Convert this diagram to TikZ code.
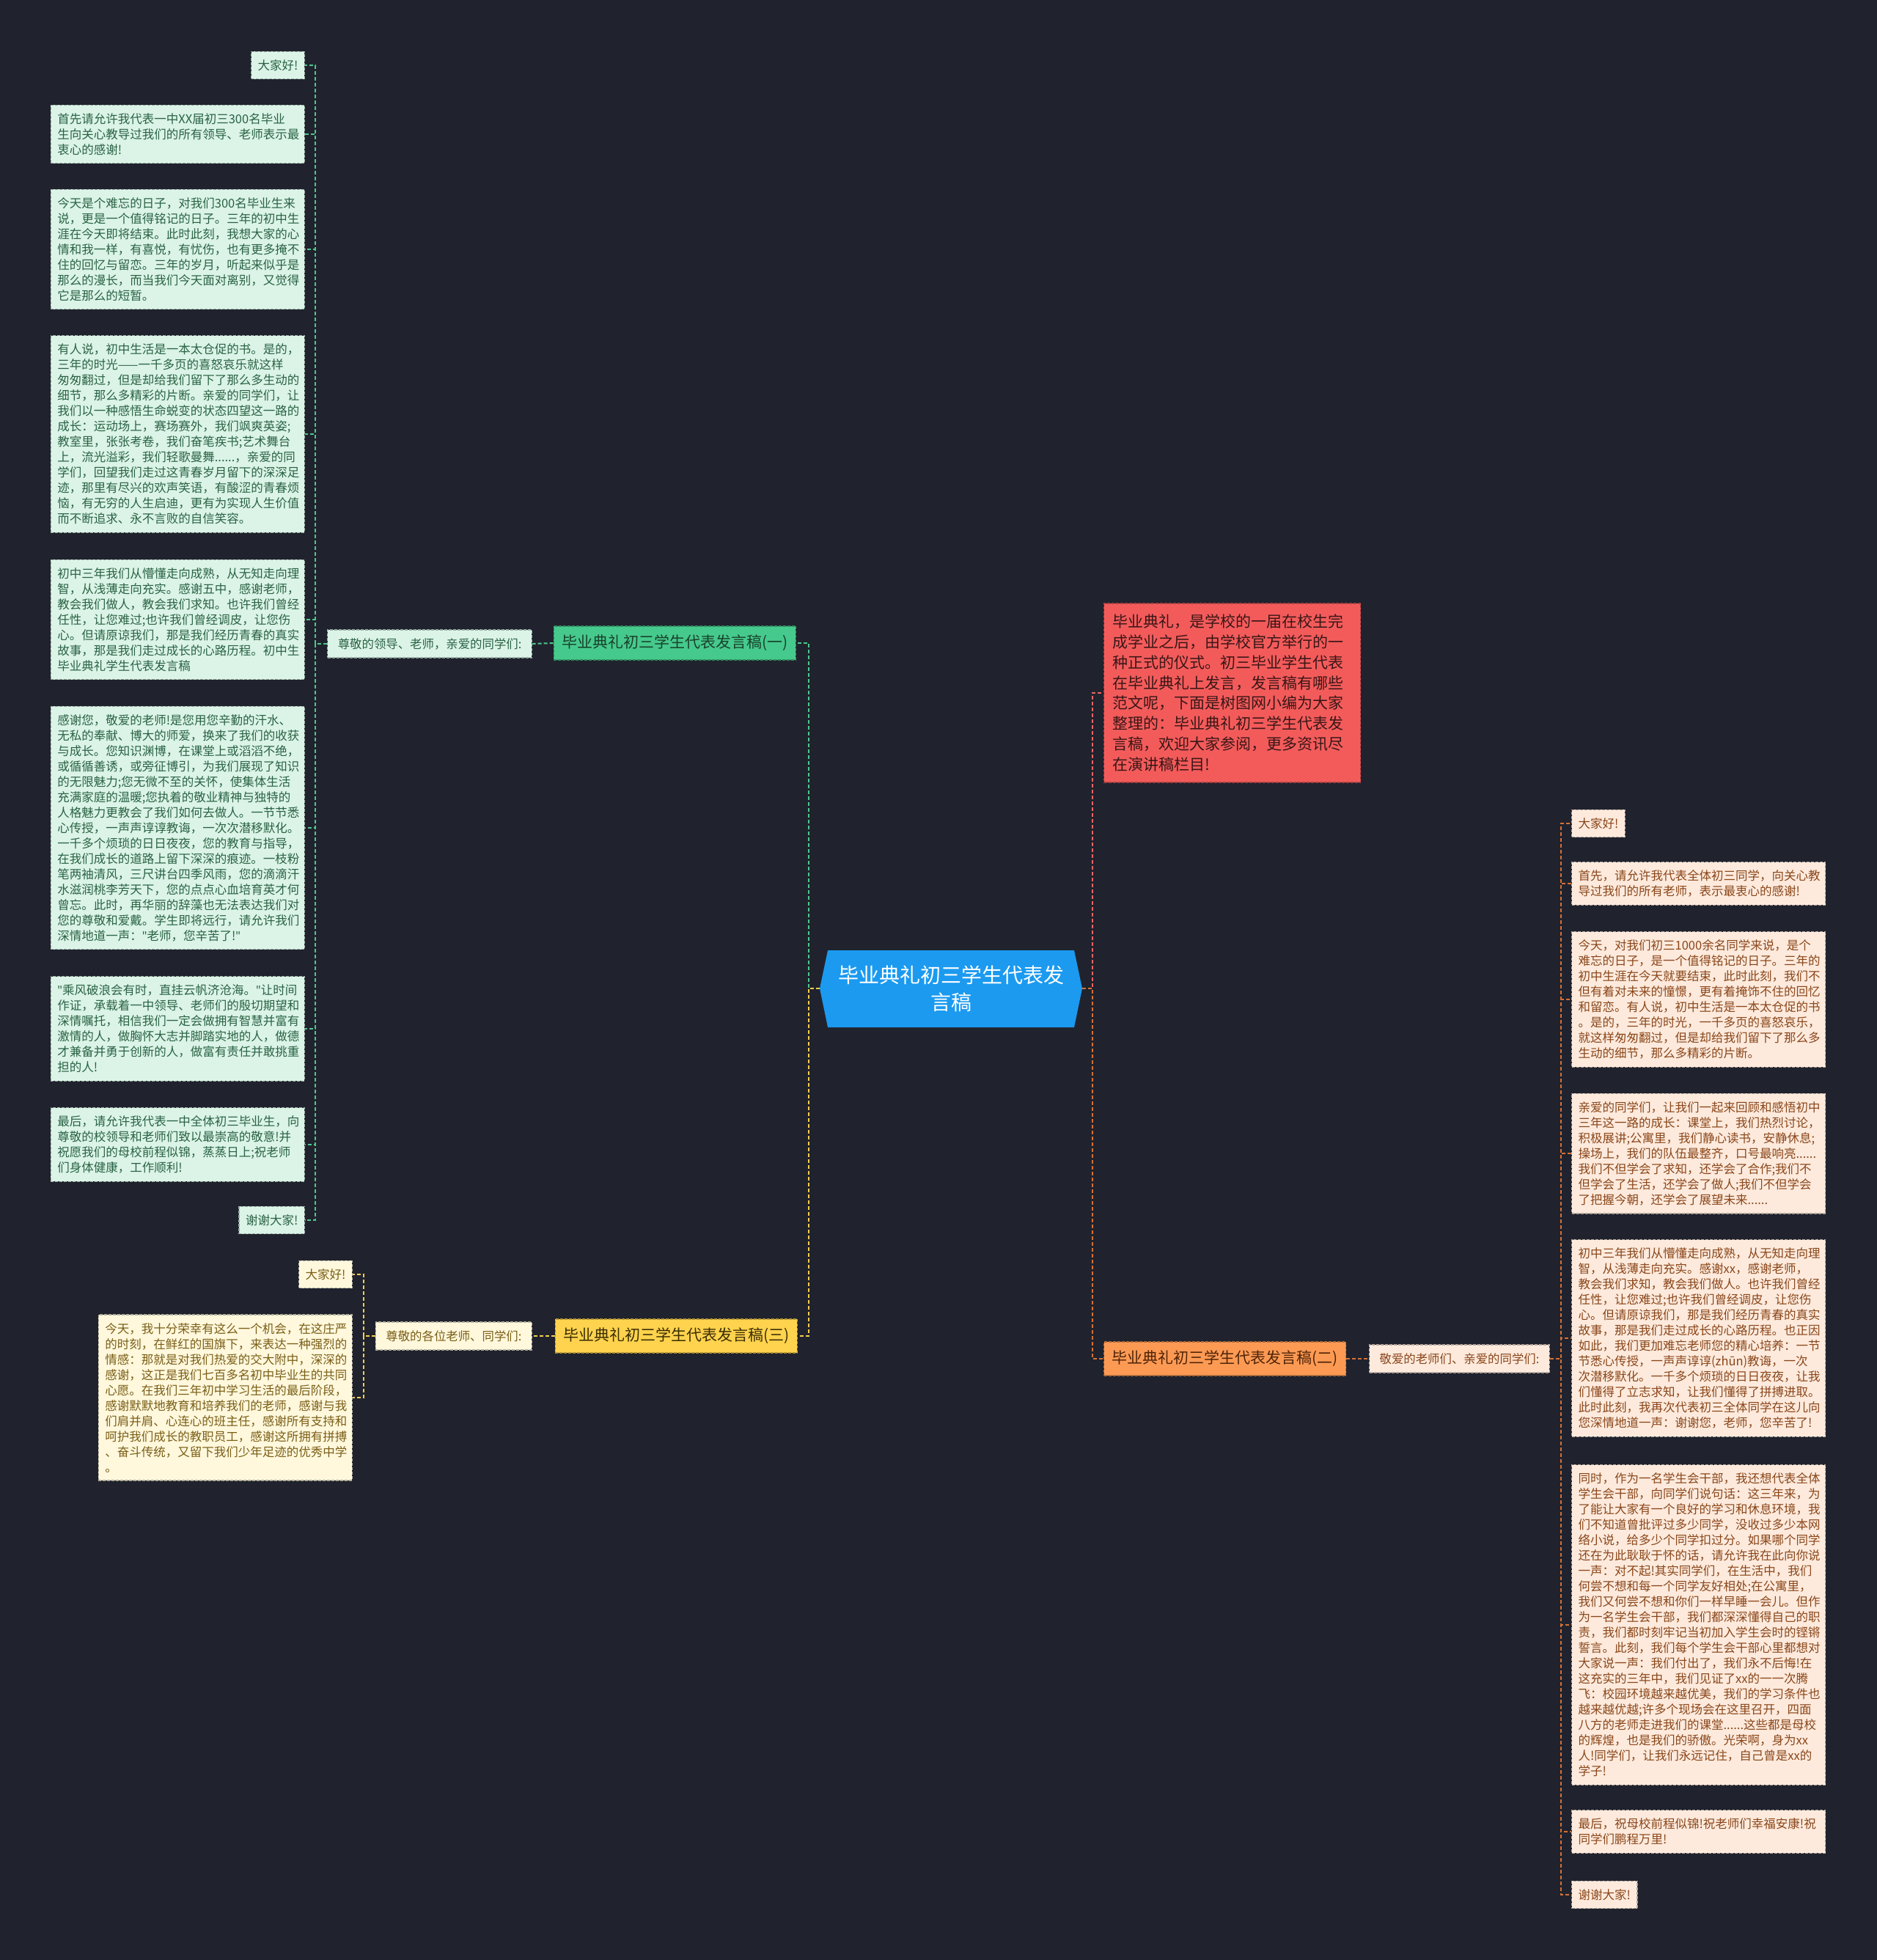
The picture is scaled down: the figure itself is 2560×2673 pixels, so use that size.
\documentclass[tikz,border=0pt]{standalone}
\usepackage{fontspec}
\setmainfont{Noto Sans CJK SC}
\newfontfamily\quotefont{Noto Sans}

\definecolor{bgdark}{RGB}{32,35,46}
\definecolor{rootblue}{RGB}{27,154,240}
\definecolor{gmain}{RGB}{70,201,140}
\definecolor{gmaintext}{RGB}{24,66,44}
\definecolor{gleaffill}{RGB}{219,244,231}
\definecolor{gleaftext}{RGB}{42,98,68}
\definecolor{gedge}{RGB}{76,200,140}
\definecolor{ymain}{RGB}{255,211,77}
\definecolor{ymaintext}{RGB}{60,46,5}
\definecolor{yleaffill}{RGB}{255,248,221}
\definecolor{yleaftext}{RGB}{122,94,22}
\definecolor{yedge}{RGB}{245,205,80}
\definecolor{rmain}{RGB}{243,91,91}
\definecolor{rmaintext}{RGB}{58,22,22}
\definecolor{redge}{RGB}{236,100,100}
\definecolor{omain}{RGB}{252,154,84}
\definecolor{omaintext}{RGB}{80,36,8}
\definecolor{oleaffill}{RGB}{253,234,221}
\definecolor{oleaftext}{RGB}{138,70,25}
\definecolor{oedge}{RGB}{214,112,52}

\newcommand{\leaffont}{\fontsize{8.25}{10.5}\selectfont}
\newcommand{\subfont}{\fontsize{8.2}{10}\selectfont}
\newcommand{\brfont}{\fontsize{10.5}{13}\selectfont}
\newcommand{\dq}{{\quotefont"}}

\tikzset{
  edge/.style={line width=1pt, dash pattern=on 2.5pt off 1.5pt},
  gline/.style={edge, draw=gedge},
  yline/.style={edge, draw=yedge},
  rline/.style={edge, draw=redge},
  oline/.style={edge, draw=oedge},
  boxline/.style={line width=0.6pt, dash pattern=on 2pt off 1pt},
  leaf/.style={boxline, font=\leaffont, inner xsep=4.5pt, inner ysep=5.5pt, align=left},
  wide/.style={text width=164pt},
  gleaf/.style={leaf, fill=gleaffill, draw=gleaffill!70!black, text=gleaftext},
  yleaf/.style={leaf, fill=yleaffill, draw=yleaffill!70!black, text=yleaftext},
  oleaf/.style={leaf, fill=oleaffill, draw=oleaffill!70!black, text=oleaftext},
  subbox/.style={boxline, font=\subfont, inner xsep=7pt, minimum height=19pt},
  brbox/.style={boxline, font=\brfont, inner xsep=5.5pt, minimum height=23pt},
  rootbox/.style={font=\fontsize{14}{18.75}\selectfont, text=white, align=center,
    minimum width=179pt, minimum height=52.5pt, inner sep=0pt}
}

\begin{document}
\begin{tikzpicture}[x=0.5pt,y=-0.5pt]
\fill[bgdark] (0,0) rectangle (2560,2673);
\useasboundingbox (0,0) rectangle (2560,2673);

\pgfmathsetmacro{\lfGr}{416}
\pgfmathsetmacro{\lfYr}{481}
\pgfmathsetmacro{\lfOl}{2143}

% root
\fill[rootblue] (1118,1348) -- (1129,1296) -- (1465,1296) -- (1476,1348) -- (1465,1401) -- (1129,1401) -- cycle;
\node[rootbox] (root) at (1297,1348) {毕业典礼初三学生代表发\\言稿};

% branch one
\node[brbox, fill=gmain, draw=gmain!70!black, text=gmaintext, anchor=east] (m1) at (1086,877) {毕业典礼初三学生代表发言稿(一)};
\node[subbox, fill=gleaffill, draw=gleaffill!70!black, text=gleaftext, anchor=east] (gsub) at (726,878) {尊敬的领导、老师，亲爱的同学们:};

\node[gleaf, anchor=east] (ga) at (\lfGr,89) {大家好!};
\node[gleaf, wide, anchor=east] (gb1) at (\lfGr,183) {首先请允许我代表一中XX届初三300名毕业\\生向关心教导过我们的所有领导、老师表示最\\衷心的感谢!};
\node[gleaf, wide, anchor=east] (gb2) at (\lfGr,340) {今天是个难忘的日子，对我们300名毕业生来\\说，更是一个值得铭记的日子。三年的初中生\\涯在今天即将结束。此时此刻，我想大家的心\\情和我一样，有喜悦，有忧伤，也有更多掩不\\住的回忆与留恋。三年的岁月，听起来似乎是\\那么的漫长，而当我们今天面对离别，又觉得\\它是那么的短暂。};
\node[gleaf, wide, anchor=east] (gb3) at (\lfGr,592) {有人说，初中生活是一本太仓促的书。是的，\\三年的时光——一千多页的喜怒哀乐就这样\\匆匆翻过，但是却给我们留下了那么多生动的\\细节，那么多精彩的片断。亲爱的同学们，让\\我们以一种感悟生命蜕变的状态四望这一路的\\成长：运动场上，赛场赛外，我们飒爽英姿;\\教室里，张张考卷，我们奋笔疾书;艺术舞台\\上，流光溢彩，我们轻歌曼舞......，亲爱的同\\学们，回望我们走过这青春岁月留下的深深足\\迹，那里有尽兴的欢声笑语，有酸涩的青春烦\\恼，有无穷的人生启迪，更有为实现人生价值\\而不断追求、永不言败的自信笑容。};
\node[gleaf, wide, anchor=east] (gb4) at (\lfGr,845) {初中三年我们从懵懂走向成熟，从无知走向理\\智，从浅薄走向充实。感谢五中，感谢老师，\\教会我们做人，教会我们求知。也许我们曾经\\任性，让您难过;也许我们曾经调皮，让您伤\\心。但请原谅我们，那是我们经历青春的真实\\故事，那是我们走过成长的心路历程。初中生\\毕业典礼学生代表发言稿};
\node[gleaf, wide, anchor=east] (gb5) at (\lfGr,1129) {感谢您，敬爱的老师!是您用您辛勤的汗水、\\无私的奉献、博大的师爱，换来了我们的收获\\与成长。您知识渊博，在课堂上或滔滔不绝，\\或循循善诱，或旁征博引，为我们展现了知识\\的无限魅力;您无微不至的关怀，使集体生活\\充满家庭的温暖;您执着的敬业精神与独特的\\人格魅力更教会了我们如何去做人。一节节悉\\心传授，一声声谆谆教诲，一次次潜移默化。\\一千多个烦琐的日日夜夜，您的教育与指导，\\在我们成长的道路上留下深深的痕迹。一枝粉\\笔两袖清风，三尺讲台四季风雨，您的滴滴汗\\水滋润桃李芳天下，您的点点心血培育英才何\\曾忘。此时，再华丽的辞藻也无法表达我们对\\您的尊敬和爱戴。学生即将远行，请允许我们\\深情地道一声：\dq 老师，您辛苦了!\dq};
\node[gleaf, wide, anchor=east] (gb6) at (\lfGr,1403) {\dq 乘风破浪会有时，直挂云帆济沧海。\dq 让时间\\作证，承载着一中领导、老师们的殷切期望和\\深情嘱托，相信我们一定会做拥有智慧并富有\\激情的人，做胸怀大志并脚踏实地的人，做德\\才兼备并勇于创新的人，做富有责任并敢挑重\\担的人!};
\node[gleaf, wide, anchor=east] (gb7) at (\lfGr,1561) {最后，请允许我代表一中全体初三毕业生，向\\尊敬的校领导和老师们致以最崇高的敬意!并\\祝愿我们的母校前程似锦，蒸蒸日上;祝老师\\们身体健康，工作顺利!};
\node[gleaf, anchor=east] (gc) at (\lfGr,1664) {谢谢大家!};

\foreach \n in {ga,gb1,gb2,gb3,gb4,gb5,gb6,gb7,gc}
  \draw[gline] (gsub.west) -- ++(-16,0) |- (\n.east);
\draw[gline] (m1.west) -- (gsub.east);
\draw[gline] (root.west) -- ++(-15,0) |- (m1.east);

% branch three
\node[brbox, fill=ymain, draw=ymain!70!black, text=ymaintext, anchor=east] (m3) at (1088,1822) {毕业典礼初三学生代表发言稿(三)};
\node[subbox, fill=yleaffill, draw=yleaffill!70!black, text=yleaftext, anchor=east] (ysub) at (726,1822) {尊敬的各位老师、同学们:};

\node[yleaf, anchor=east] (ya) at (\lfYr,1738) {大家好!};
\node[yleaf, wide, anchor=east] (yb) at (\lfYr,1906) {今天，我十分荣幸有这么一个机会，在这庄严\\的时刻，在鲜红的国旗下，来表达一种强烈的\\情感：那就是对我们热爱的交大附中，深深的\\感谢，这正是我们七百多名初中毕业生的共同\\心愿。在我们三年初中学习生活的最后阶段，\\感谢默默地教育和培养我们的老师，感谢与我\\们肩并肩、心连心的班主任，感谢所有支持和\\呵护我们成长的教职员工，感谢这所拥有拼搏\\、奋斗传统，又留下我们少年足迹的优秀中学\\。};

\foreach \n in {ya,yb}
  \draw[yline] (ysub.west) -- ++(-16,0) |- (\n.east);
\draw[yline] (m3.west) -- (ysub.east);
\draw[yline] (root.west) -- ++(-15,0) |- (m3.east);

% intro
\node[boxline, fill=rmain, draw=rmain!70!black, text=rmaintext, font=\fontsize{10.5}{13.9}\selectfont,
  text width=163pt, inner xsep=6pt, inner ysep=7.5pt, align=left, anchor=west] (intro) at (1505,945)
  {毕业典礼，是学校的一届在校生完\\成学业之后，由学校官方举行的一\\种正式的仪式。初三毕业学生代表\\在毕业典礼上发言，发言稿有哪些\\范文呢，下面是树图网小编为大家\\整理的：毕业典礼初三学生代表发\\言稿，欢迎大家参阅，更多资讯尽\\在演讲稿栏目!};
\draw[rline] (root.east) -- ++(14,0) |- (intro.west);

% branch two
\node[brbox, fill=omain, draw=omain!70!black, text=omaintext, anchor=west] (m2) at (1505,1853) {毕业典礼初三学生代表发言稿(二)};
\node[subbox, fill=oleaffill, draw=oleaffill!70!black, text=oleaftext, anchor=west] (osub) at (1867,1853) {敬爱的老师们、亲爱的同学们:};

\node[oleaf, anchor=west] (oa) at (\lfOl,1123) {大家好!};
\node[oleaf, wide, anchor=west] (ob1) at (\lfOl,1205) {首先，请允许我代表全体初三同学，向关心教\\导过我们的所有老师，表示最衷心的感谢!};
\node[oleaf, wide, anchor=west] (ob2) at (\lfOl,1363) {今天，对我们初三1000余名同学来说，是个\\难忘的日子，是一个值得铭记的日子。三年的\\初中生涯在今天就要结束，此时此刻，我们不\\但有着对未来的憧憬，更有着掩饰不住的回忆\\和留恋。有人说，初中生活是一本太仓促的书\\。是的，三年的时光，一千多页的喜怒哀乐，\\就这样匆匆翻过，但是却给我们留下了那么多\\生动的细节，那么多精彩的片断。};
\node[oleaf, wide, anchor=west] (ob3) at (\lfOl,1573) {亲爱的同学们，让我们一起来回顾和感悟初中\\三年这一路的成长：课堂上，我们热烈讨论，\\积极展讲;公寓里，我们静心读书，安静休息;\\操场上，我们的队伍最整齐，口号最响亮......\\我们不但学会了求知，还学会了合作;我们不\\但学会了生活，还学会了做人;我们不但学会\\了把握今朝，还学会了展望未来......};
\node[oleaf, wide, anchor=west] (ob4) at (\lfOl,1825) {初中三年我们从懵懂走向成熟，从无知走向理\\智，从浅薄走向充实。感谢xx，感谢老师，\\教会我们求知，教会我们做人。也许我们曾经\\任性，让您难过;也许我们曾经调皮，让您伤\\心。但请原谅我们，那是我们经历青春的真实\\故事，那是我们走过成长的心路历程。也正因\\如此，我们更加难忘老师您的精心培养：一节\\节悉心传授，一声声谆谆(zhūn)教诲，一次\\次潜移默化。一千多个烦琐的日日夜夜，让我\\们懂得了立志求知，让我们懂得了拼搏进取。\\此时此刻，我再次代表初三全体同学在这儿向\\您深情地道一声：谢谢您，老师，您辛苦了!};
\node[oleaf, wide, anchor=west] (ob5) at (\lfOl,2216) {同时，作为一名学生会干部，我还想代表全体\\学生会干部，向同学们说句话：这三年来，为\\了能让大家有一个良好的学习和休息环境，我\\们不知道曾批评过多少同学，没收过多少本网\\络小说，给多少个同学扣过分。如果哪个同学\\还在为此耿耿于怀的话，请允许我在此向你说\\一声：对不起!其实同学们，在生活中，我们\\何尝不想和每一个同学友好相处;在公寓里，\\我们又何尝不想和你们一样早睡一会儿。但作\\为一名学生会干部，我们都深深懂得自己的职\\责，我们都时刻牢记当初加入学生会时的铿锵\\誓言。此刻，我们每个学生会干部心里都想对\\大家说一声：我们付出了，我们永不后悔!在\\这充实的三年中，我们见证了xx的一一次腾\\飞：校园环境越来越优美，我们的学习条件也\\越来越优越;许多个现场会在这里召开，四面\\八方的老师走进我们的课堂......这些都是母校\\的辉煌，也是我们的骄傲。光荣啊，身为xx\\人!同学们，让我们永远记住，自己曾是xx的\\学子!};
\node[oleaf, wide, anchor=west] (ob6) at (\lfOl,2498) {最后，祝母校前程似锦!祝老师们幸福安康!祝\\同学们鹏程万里!};
\node[oleaf, anchor=west] (oc) at (\lfOl,2584) {谢谢大家!};

\foreach \n in {oa,ob1,ob2,ob3,ob4,ob5,ob6,oc}
  \draw[oline] (osub.east) -- ++(15,0) |- (\n.west);
\draw[oline] (m2.east) -- (osub.west);
\draw[oline] (root.east) -- ++(14,0) |- (m2.west);
\end{tikzpicture}
\end{document}
